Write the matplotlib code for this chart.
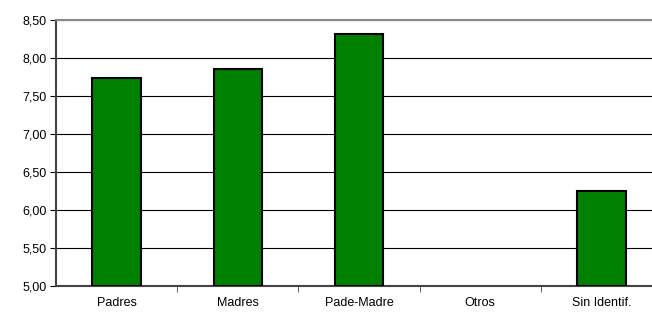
import matplotlib
matplotlib.use("Agg")
import matplotlib.pyplot as plt
import numpy as np

categories = ["Padres", "Madres", "Pade-Madre", "Otros", "Sin Identif."]
values = [7.74, 7.86, 8.32, np.nan, 6.25]
yticks = [5.0, 5.5, 6.0, 6.5, 7.0, 7.5, 8.0, 8.5]

plt.rcParams['font.family'] = ['Liberation Sans', 'DejaVu Sans']
fig = plt.figure(figsize=(6.52, 3.16), dpi=100)
ax = fig.add_axes([56/652, 30/316, 606/652, 266/316])

x = np.arange(len(categories))
bottom = 5.0
for xi, v in zip(x, values):
    if not np.isnan(v):
        ax.bar(xi, v - bottom, bottom=bottom, width=0.40, color="#008000",
               edgecolor="black", linewidth=1.5, zorder=3)

ax.set_xlim(-0.5, len(categories) - 0.5)
ax.set_ylim(5.0, 8.5)
ax.set_yticks(yticks)
ax.set_yticklabels([f"{t:.2f}".replace(".", ",") for t in yticks], fontsize=9)
ax.yaxis.grid(True, color="black", linewidth=0.8, zorder=0)
ax.set_axisbelow(True)

ax.set_xticks(x)
ax.set_xticklabels(categories, fontsize=9)
ax.tick_params(axis="x", length=0, pad=8)
ax.set_xticks(np.arange(0.5, len(categories) - 0.5), minor=True)
ax.tick_params(axis="x", which="minor", length=4, direction="out", color="#444444")
ax.tick_params(axis="y", length=4, direction="out", pad=3)

ax.spines["left"].set_color("#444444")
ax.spines["left"].set_linewidth(1.5)
ax.spines["bottom"].set_color("#444444")
ax.spines["bottom"].set_linewidth(1.5)
ax.spines["top"].set_color("#888888")
ax.spines["top"].set_linewidth(1.5)
ax.spines["right"].set_visible(False)

fig.savefig("out.png", dpi=100)
